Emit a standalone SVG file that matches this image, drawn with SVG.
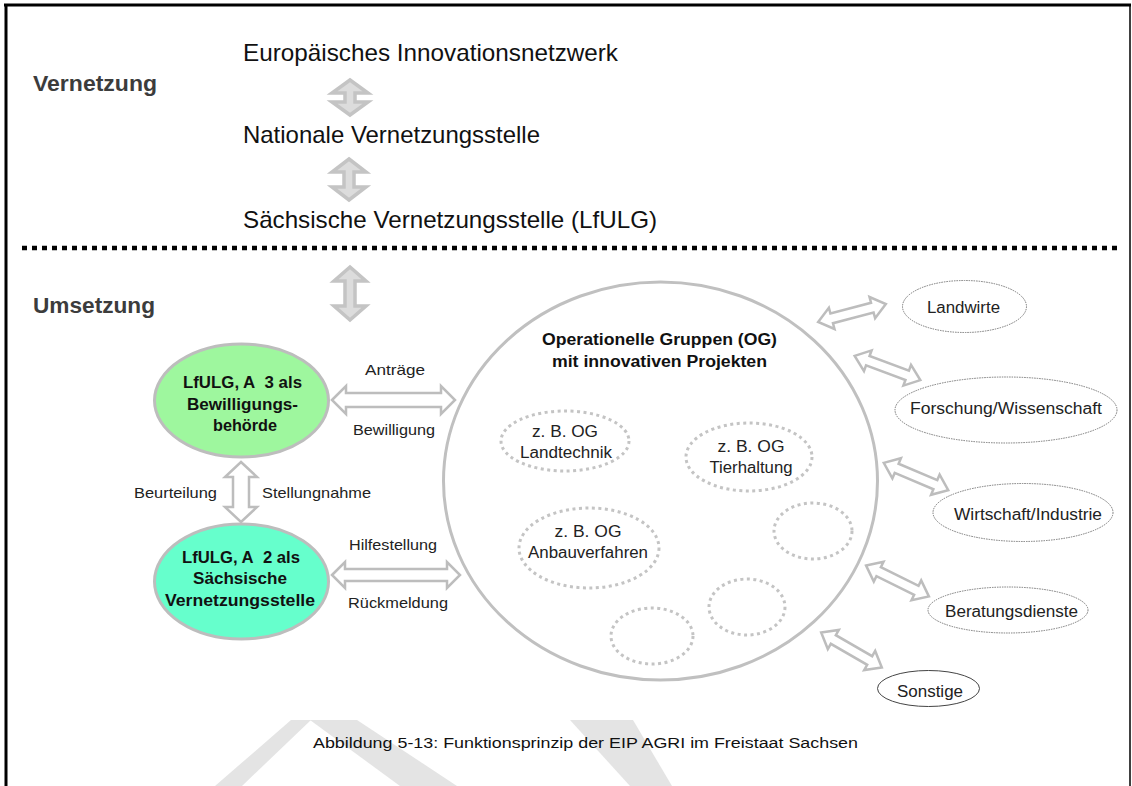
<svg xmlns="http://www.w3.org/2000/svg" width="1132" height="786" viewBox="0 0 1132 786">
<style>
text{font-family:"Liberation Sans",Arial,sans-serif;fill:#111}
.sec{font-size:22px;font-weight:bold;fill:#3c3c3c}
.ttl{font-size:24px}
.b{font-size:16px;font-weight:bold;text-anchor:middle}
.lab{font-size:15px;fill:#222}
.og{font-size:16px;text-anchor:middle;fill:#222}
.rl{font-size:16px;text-anchor:middle;fill:#222}
.garr{fill:#dcdcdc;stroke:#c4c4c4;stroke-width:3.5;stroke-linejoin:miter}
.harr{fill:#fff;stroke:#bdbdbd;stroke-width:2.5}
.dot{fill:none;stroke:#c4c4c4;stroke-width:3;stroke-dasharray:3 3.5}
.rell{fill:#fff;stroke:#777;stroke-width:1;stroke-dasharray:1.5 1}
.wm{fill:#e4e4e4}
</style>
<defs>
<path id="dbl" d="M-35,0 L-21,-11 L-21,-5 L21,-5 L21,-11 L35,0 L21,11 L21,5 L-21,5 L-21,11 Z"/>
</defs>
<rect width="1132" height="786" fill="#fff"/>
<g id="watermark">
<polygon class="wm" points="215,786 242,786 311,720 291,720"/>
<polygon class="wm" points="310,720 357,720 457,786 400,786"/>
<polygon class="wm" points="570,720 633,720 672,786 630,786"/>
</g>
<g id="frame" stroke="#000" fill="none">
<line x1="4" y1="5" x2="1131" y2="5" stroke-width="3"/>
<line x1="6" y1="4" x2="6" y2="786" stroke-width="3"/>
<line x1="1130" y1="4" x2="1130" y2="786" stroke-width="1.5"/>
</g>
<line id="divider" x1="22" y1="248" x2="1122" y2="248" stroke="#000" stroke-width="4.5" stroke-dasharray="5 5"/>
<g id="sections">
<text class="sec" x="33" y="91" textLength="124" lengthAdjust="spacingAndGlyphs">Vernetzung</text>
<text class="sec" x="33" y="313" textLength="122" lengthAdjust="spacingAndGlyphs">Umsetzung</text>
</g>
<g id="n-eu"><text class="ttl" x="243" y="61" textLength="375" lengthAdjust="spacingAndGlyphs">Europäisches Innovationsnetzwerk</text></g>
<g id="n-nat"><text class="ttl" x="243" y="143" textLength="297" lengthAdjust="spacingAndGlyphs">Nationale Vernetzungsstelle</text></g>
<g id="n-sax"><text class="ttl" x="243" y="228" textLength="414" lengthAdjust="spacingAndGlyphs">Sächsische Vernetzungsstelle (LfULG)</text></g>
<g id="connectors">
<path class="garr" d="M350,80 L368,93 L355,93 L355,102 L368,102 L350,115 L332,102 L345,102 L345,93 L332,93 Z"/>
<path class="garr" d="M349,159 L366,172 L354,172 L354,187 L366,187 L349,200 L332,187 L344,187 L344,172 L332,172 Z"/>
<path class="garr" d="M350,267 L366,281 L355,281 L355,306 L366,306 L350,320 L334,306 L345,306 L345,281 L334,281 Z"/>
<path class="harr" d="M241,462 L257,477 L249,477 L249,507 L257,507 L241,522 L225,507 L233,507 L233,477 L225,477 Z"/>
<path class="harr" d="M332,400 L346,386 L346,393 L441,393 L441,386 L455,400 L441,414 L441,407 L346,407 L346,414 Z"/>
<path class="harr" d="M332,575 L345,562 L345,569 L447,569 L447,562 L460,575 L447,588 L447,581 L345,581 L345,588 Z"/>
<use href="#dbl" class="harr" transform="translate(852,313) rotate(-14.8)"/>
<use href="#dbl" class="harr" transform="translate(887.5,368) rotate(20.3)"/>
<use href="#dbl" class="harr" transform="translate(916,476.5) rotate(22.9)"/>
<use href="#dbl" class="harr" transform="translate(897.5,581) rotate(26.2)"/>
<use href="#dbl" class="harr" transform="translate(851.5,650) rotate(30)"/>
</g>
<g id="arrow-labels">
<text class="lab" x="365" y="375" textLength="60" lengthAdjust="spacingAndGlyphs">Anträge</text>
<text class="lab" x="353" y="435" textLength="82" lengthAdjust="spacingAndGlyphs">Bewilligung</text>
<text class="lab" x="134" y="498" textLength="83" lengthAdjust="spacingAndGlyphs">Beurteilung</text>
<text class="lab" x="262" y="498" textLength="109" lengthAdjust="spacingAndGlyphs">Stellungnahme</text>
<text class="lab" x="349" y="550" textLength="88" lengthAdjust="spacingAndGlyphs">Hilfestellung</text>
<text class="lab" x="348" y="608" textLength="100" lengthAdjust="spacingAndGlyphs">Rückmeldung</text>
</g>
<g id="n-a3">
<ellipse cx="241.5" cy="400.5" rx="87" ry="56.5" fill="#9ef79e" stroke="#bdbdbd" stroke-width="3"/>
<text class="b" x="242.5" y="388" textLength="119" lengthAdjust="spacingAndGlyphs">LfULG, A&#160; 3 als</text>
<text class="b" x="242.5" y="410" textLength="111" lengthAdjust="spacingAndGlyphs">Bewilligungs-</text>
<text class="b" x="245" y="431" textLength="64" lengthAdjust="spacingAndGlyphs">behörde</text>
</g>
<g id="n-a2">
<ellipse cx="241.5" cy="581.5" rx="87" ry="57.5" fill="#66ffcc" stroke="#bdbdbd" stroke-width="3"/>
<text class="b" x="241" y="563" textLength="118" lengthAdjust="spacingAndGlyphs">LfULG, A&#160; 2 als</text>
<text class="b" x="240" y="584" textLength="94" lengthAdjust="spacingAndGlyphs">Sächsische</text>
<text class="b" x="240" y="606" textLength="150" lengthAdjust="spacingAndGlyphs">Vernetzungsstelle</text>
</g>
<g id="n-og">
<ellipse cx="660.5" cy="481" rx="217" ry="199" fill="#fff" stroke="#c0c0c0" stroke-width="3"/>
<text class="b" x="659.5" y="345" textLength="235" lengthAdjust="spacingAndGlyphs">Operationelle Gruppen (OG)</text>
<text class="b" x="659.5" y="367" textLength="215" lengthAdjust="spacingAndGlyphs">mit innovativen Projekten</text>
</g>
<g id="n-og1">
<ellipse class="dot" cx="565" cy="441" rx="64" ry="30"/>
<text class="og" x="565" y="437" textLength="66" lengthAdjust="spacingAndGlyphs">z. B. OG</text>
<text class="og" x="566" y="458" textLength="92" lengthAdjust="spacingAndGlyphs">Landtechnik</text>
</g>
<g id="n-og2">
<ellipse class="dot" cx="749" cy="457" rx="63" ry="34"/>
<text class="og" x="751" y="452" textLength="67" lengthAdjust="spacingAndGlyphs">z. B. OG</text>
<text class="og" x="751" y="473" textLength="83" lengthAdjust="spacingAndGlyphs">Tierhaltung</text>
</g>
<g id="n-og3">
<ellipse class="dot" cx="589" cy="548" rx="70" ry="40"/>
<text class="og" x="588" y="537" textLength="67" lengthAdjust="spacingAndGlyphs">z. B. OG</text>
<text class="og" x="588" y="558" textLength="120" lengthAdjust="spacingAndGlyphs">Anbauverfahren</text>
</g>
<g id="n-og4"><ellipse class="dot" cx="813" cy="531" rx="39" ry="28"/></g>
<g id="n-og5"><ellipse class="dot" cx="747" cy="607" rx="38" ry="28"/></g>
<g id="n-og6"><ellipse class="dot" cx="652" cy="636" rx="41" ry="28"/></g>
<g id="n-landwirte">
<ellipse class="rell" cx="964.5" cy="306.5" rx="62" ry="26"/>
<text class="rl" x="963.5" y="313" textLength="73" lengthAdjust="spacingAndGlyphs">Landwirte</text>
</g>
<g id="n-forschung">
<ellipse class="rell" cx="1006" cy="410" rx="111" ry="33"/>
<text class="rl" x="1006" y="414" textLength="192" lengthAdjust="spacingAndGlyphs">Forschung/Wissenschaft</text>
</g>
<g id="n-wirtschaft">
<ellipse class="rell" cx="1023" cy="512.5" rx="90" ry="29"/>
<text class="rl" x="1028" y="520" textLength="148" lengthAdjust="spacingAndGlyphs">Wirtschaft/Industrie</text>
</g>
<g id="n-beratung">
<ellipse class="rell" cx="1008" cy="610" rx="80" ry="23"/>
<text class="rl" x="1011.5" y="617" textLength="133" lengthAdjust="spacingAndGlyphs">Beratungsdienste</text>
</g>
<g id="n-sonstige">
<ellipse cx="928.5" cy="688.5" rx="51" ry="18" fill="#fff" stroke="#444" stroke-width="1"/>
<text class="rl" x="930" y="697" textLength="66" lengthAdjust="spacingAndGlyphs">Sonstige</text>
</g>
<text id="caption" x="313" y="748" font-size="15.5" textLength="545" lengthAdjust="spacingAndGlyphs">Abbildung 5-13: Funktionsprinzip der EIP AGRI im Freistaat Sachsen</text>
</svg>
